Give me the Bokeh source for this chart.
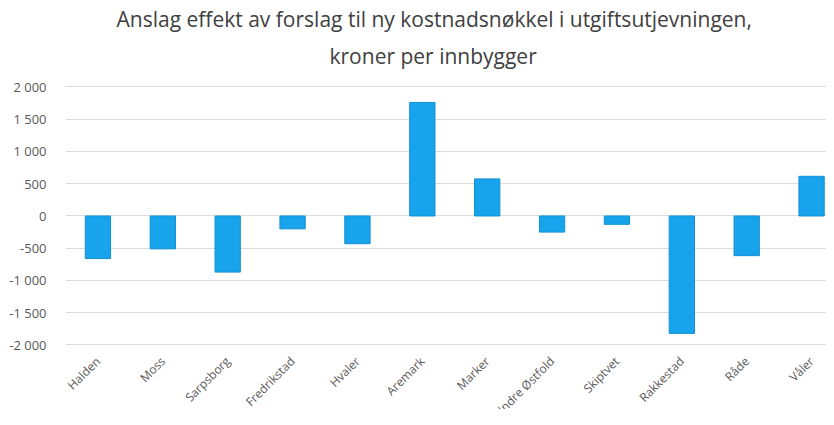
import math
from bokeh.plotting import figure
from bokeh.models import Range1d, FixedTicker, Title, ColumnDataSource
from bokeh.core.properties import value
from bokeh.embed import file_html
from bokeh.resources import INLINE

# ---- data ----
kommuner = ["Halden", "Moss", "Sarpsborg", "Fredrikstad", "Hvaler", "Aremark",
            "Marker", "Indre Østfold", "Skiptvet", "Rakkestad", "Råde", "Våler"]
effekt = [-660, -510, -870, -200, -430, 1760, 575, -250, -130, -1820, -615, 615]
y_ticks = [-2000, -1500, -1000, -500, 0, 500, 1000, 1500, 2000]
y_tick_labels = ["-2 000", "-1 500", "-1 000", "-500", "0", "500", "1 000", "1 500", "2 000"]
title_line1 = "Anslag effekt av forslag til ny kostnadsnøkkel i utgiftsutjevningen,"
title_line2 = "kroner per innbygger"

FONT = "Open Sans"
TXT = "#595959"

xs = list(range(len(kommuner)))
src = ColumnDataSource(dict(x=xs, v=effekt, name=kommuner,
                            base=[min(y_ticks)] * len(kommuner)))

p = figure(width=826, height=409, output_backend="svg", toolbar_location=None,
           x_range=Range1d(-0.5, 11.23), y_range=Range1d(-3000, 2100),
           min_border_left=65, min_border_right=0, min_border_top=80,
           min_border_bottom=0, title=None)
p.outline_line_color = None
p.background_fill_color = "white"
p.border_fill_color = "white"

p.add_layout(Title(text=title_line2, align="left", offset=264, text_font=FONT,
                   text_font_size="21px", text_font_style="normal",
                   text_color="#404040", standoff=18, vertical_align="top"), "above")
p.add_layout(Title(text=title_line1, align="left", offset=51, text_font=FONT,
                   text_font_size="21px", text_font_style="normal",
                   text_color="#404040", standoff=0), "above")

p.vbar(x="x", top="v", bottom=0, width=0.39, source=src,
       fill_color="#17a4ec", line_color="#1290d2", line_width=1)

# y axis
p.yaxis.ticker = FixedTicker(ticks=y_ticks)
p.yaxis.major_label_overrides = {t: l for t, l in zip(y_ticks, y_tick_labels)}
ax = p.yaxis[0]
ax.axis_line_color = None
ax.major_tick_line_color = None
ax.minor_tick_line_color = None
ax.major_label_text_font = FONT
ax.major_label_text_font_size = "13px"
ax.major_label_text_color = TXT
ax.major_label_standoff = 13

# x axis: category labels drawn rotated under the lowest grid line
p.xaxis.visible = False
p.text(x="x", y="base", text="name", source=src, angle=math.pi / 4,
       text_align="right", text_baseline="top", x_offset=-6, y_offset=8,
       text_font=value(FONT), text_font_size=value("12px"), text_color=TXT)

p.xgrid.visible = False
p.ygrid.grid_line_color = "#dcdcdc"
p.ygrid.grid_line_width = 1

open("out.html", "w").write(file_html(p, INLINE))
